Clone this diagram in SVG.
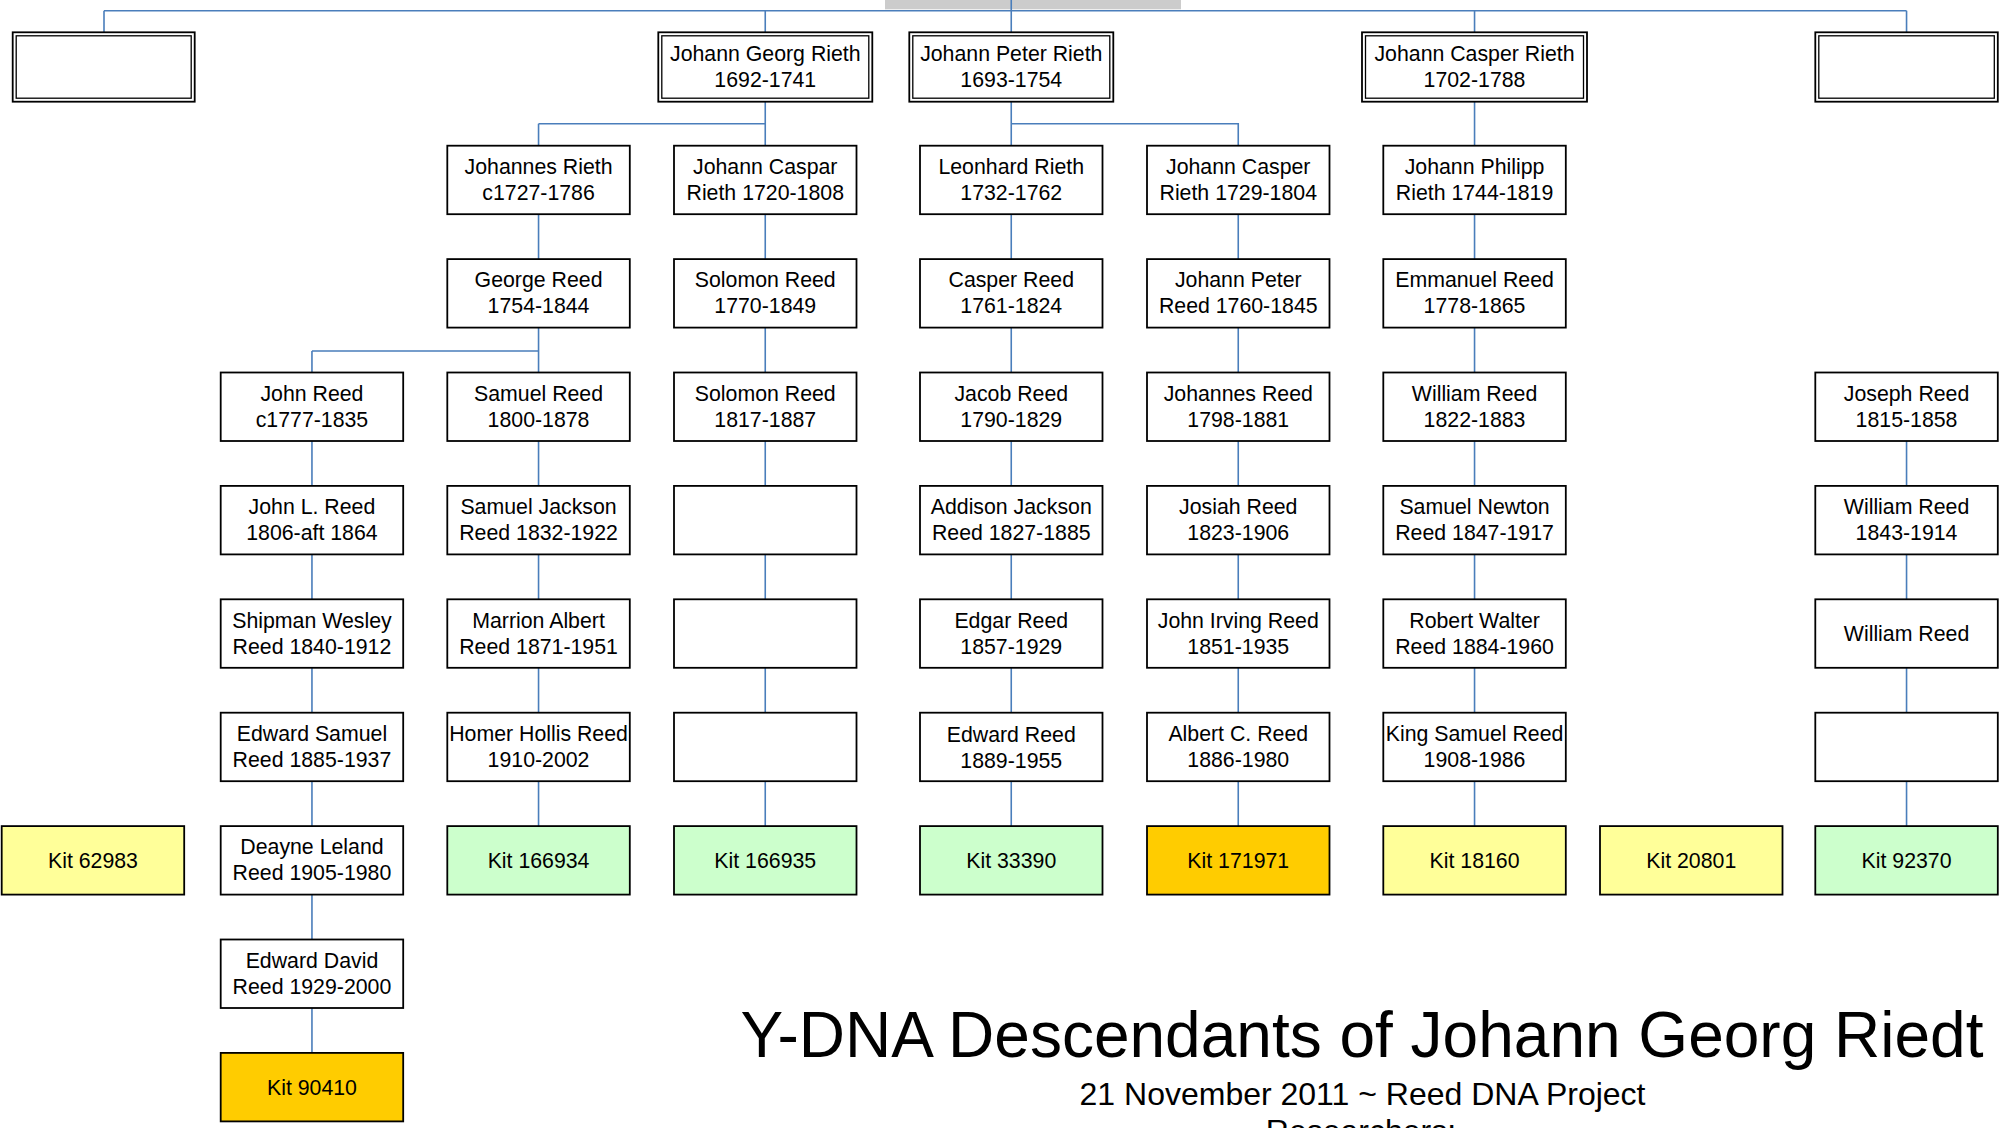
<svg xmlns="http://www.w3.org/2000/svg" width="2000" height="1128" viewBox="0 0 2000 1128">
<style>
.bg{fill:#ffffff}
.box{fill:#ffffff;stroke:#000000;stroke-width:1.8}
.inner{fill:none;stroke:#000000;stroke-width:1.3}
.yel{fill:#FFFF99;stroke:#000000;stroke-width:1.8}
.grn{fill:#CCFFCC;stroke:#000000;stroke-width:1.8}
.org{fill:#FFCC00;stroke:#000000;stroke-width:1.8}
.t{font-family:"Liberation Sans",Arial,sans-serif;font-size:21.3px;text-anchor:middle;fill:#000000}
.c{stroke:#4A7EBB;stroke-width:1.6;fill:none}
.title{font-family:"Liberation Sans",Arial,sans-serif;font-size:64px;text-anchor:middle;fill:#000000}
.sub{font-family:"Liberation Sans",Arial,sans-serif;font-size:32px;text-anchor:middle;fill:#000000}
</style>
<rect class="bg" x="0" y="0" width="2000" height="1128"/>
<rect x="885" y="0" width="296" height="9.3" fill="#CCCCCC"/>

<g id="connectors">
<path class="c" d="M104 10.7 H1906.55 M104 10.7 V32.3 M765.25 10.7 V32.3 M1011.25 0 V32.3 M1474.55 10.7 V32.3 M1906.55 10.7 V32.3"/>
<path class="c" d="M765.25 101.7 V145.7 M538.55 123.7 H765.25 M538.55 123.7 V145.7"/>
<path class="c" d="M1011.25 101.7 V145.7 M1011.25 123.7 H1238.25 V145.7"/>
<path class="c" d="M1474.55 101.7 V145.7"/>
<path class="c" d="M538.55 214.2 V259.1 M538.55 327.6 V372.5 M311.95 351 H538.55 M311.95 351 V372.5 M538.55 441 V485.9 M538.55 554.4 V599.3 M538.55 667.8 V712.7 M538.55 781.2 V826.1"/>
<path class="c" d="M311.95 441 V485.9 M311.95 554.4 V599.3 M311.95 667.8 V712.7 M311.95 781.2 V826.1 M311.95 894.6 V939.5 M311.95 1008 V1052.9"/>
<path class="c" d="M765.25 214.2 V259.1 M765.25 327.6 V372.5 M765.25 441 V485.9 M765.25 554.4 V599.3 M765.25 667.8 V712.7 M765.25 781.2 V826.1"/>
<path class="c" d="M1011.25 214.2 V259.1 M1011.25 327.6 V372.5 M1011.25 441 V485.9 M1011.25 554.4 V599.3 M1011.25 667.8 V712.7 M1011.25 781.2 V826.1"/>
<path class="c" d="M1238.25 214.2 V259.1 M1238.25 327.6 V372.5 M1238.25 441 V485.9 M1238.25 554.4 V599.3 M1238.25 667.8 V712.7 M1238.25 781.2 V826.1"/>
<path class="c" d="M1474.55 214.2 V259.1 M1474.55 327.6 V372.5 M1474.55 441 V485.9 M1474.55 554.4 V599.3 M1474.55 667.8 V712.7 M1474.55 781.2 V826.1"/>
<path class="c" d="M1906.55 441 V485.9 M1906.55 554.4 V599.3 M1906.55 667.8 V712.7 M1906.55 781.2 V826.1"/>
</g>

<!-- Row 1 -->
<g id="top-empty-left" transform="translate(12.7,32.3)"><rect class="box" width="182" height="69.4"/><rect class="inner" x="3.5" y="3.5" width="175" height="62.4"/></g>
<g id="johann-georg-rieth" transform="translate(658.3,32.3)"><rect class="box" width="214" height="69.4"/><rect class="inner" x="3.5" y="3.5" width="207" height="62.4"/><text class="t"><tspan x="107" y="28.7">Johann Georg Rieth</tspan><tspan x="107" y="54.7">1692-1741</tspan></text></g>
<g id="johann-peter-rieth" transform="translate(909.3,32.3)"><rect class="box" width="204" height="69.4"/><rect class="inner" x="3.5" y="3.5" width="197" height="62.4"/><text class="t"><tspan x="102" y="28.7">Johann Peter Rieth</tspan><tspan x="102" y="54.7">1693-1754</tspan></text></g>
<g id="johann-casper-rieth" transform="translate(1362,32.3)"><rect class="box" width="225" height="69.4"/><rect class="inner" x="3.5" y="3.5" width="218" height="62.4"/><text class="t"><tspan x="112.5" y="28.7">Johann Casper Rieth</tspan><tspan x="112.5" y="54.7">1702-1788</tspan></text></g>
<g id="top-empty-right" transform="translate(1815.3,32.3)"><rect class="box" width="182.5" height="69.4"/><rect class="inner" x="3.5" y="3.5" width="175.5" height="62.4"/></g>

<!-- Row 2 -->
<g id="johannes-rieth" transform="translate(447.3,145.7)"><rect class="box" width="182.5" height="68.5"/><text class="t"><tspan x="91.25" y="28.3">Johannes Rieth</tspan><tspan x="91.25" y="54.3">c1727-1786</tspan></text></g>
<g id="johann-caspar-rieth" transform="translate(674,145.7)"><rect class="box" width="182.5" height="68.5"/><text class="t"><tspan x="91.25" y="28.3">Johann Caspar</tspan><tspan x="91.25" y="54.3">Rieth 1720-1808</tspan></text></g>
<g id="leonhard-rieth" transform="translate(920,145.7)"><rect class="box" width="182.5" height="68.5"/><text class="t"><tspan x="91.25" y="28.3">Leonhard Rieth</tspan><tspan x="91.25" y="54.3">1732-1762</tspan></text></g>
<g id="johann-casper-rieth-1729" transform="translate(1147,145.7)"><rect class="box" width="182.5" height="68.5"/><text class="t"><tspan x="91.25" y="28.3">Johann Casper</tspan><tspan x="91.25" y="54.3">Rieth 1729-1804</tspan></text></g>
<g id="johann-philipp-rieth" transform="translate(1383.3,145.7)"><rect class="box" width="182.5" height="68.5"/><text class="t"><tspan x="91.25" y="28.3">Johann Philipp</tspan><tspan x="91.25" y="54.3">Rieth 1744-1819</tspan></text></g>

<!-- Row 3 -->
<g id="george-reed" transform="translate(447.3,259.1)"><rect class="box" width="182.5" height="68.5"/><text class="t"><tspan x="91.25" y="28.3">George Reed</tspan><tspan x="91.25" y="54.3">1754-1844</tspan></text></g>
<g id="solomon-reed-1770" transform="translate(674,259.1)"><rect class="box" width="182.5" height="68.5"/><text class="t"><tspan x="91.25" y="28.3">Solomon Reed</tspan><tspan x="91.25" y="54.3">1770-1849</tspan></text></g>
<g id="casper-reed" transform="translate(920,259.1)"><rect class="box" width="182.5" height="68.5"/><text class="t"><tspan x="91.25" y="28.3">Casper Reed</tspan><tspan x="91.25" y="54.3">1761-1824</tspan></text></g>
<g id="johann-peter-reed" transform="translate(1147,259.1)"><rect class="box" width="182.5" height="68.5"/><text class="t"><tspan x="91.25" y="28.3">Johann Peter</tspan><tspan x="91.25" y="54.3">Reed 1760-1845</tspan></text></g>
<g id="emmanuel-reed" transform="translate(1383.3,259.1)"><rect class="box" width="182.5" height="68.5"/><text class="t"><tspan x="91.25" y="28.3">Emmanuel Reed</tspan><tspan x="91.25" y="54.3">1778-1865</tspan></text></g>

<!-- Row 4 -->
<g id="john-reed" transform="translate(220.7,372.5)"><rect class="box" width="182.5" height="68.5"/><text class="t"><tspan x="91.25" y="28.3">John Reed</tspan><tspan x="91.25" y="54.3">c1777-1835</tspan></text></g>
<g id="samuel-reed" transform="translate(447.3,372.5)"><rect class="box" width="182.5" height="68.5"/><text class="t"><tspan x="91.25" y="28.3">Samuel Reed</tspan><tspan x="91.25" y="54.3">1800-1878</tspan></text></g>
<g id="solomon-reed-1817" transform="translate(674,372.5)"><rect class="box" width="182.5" height="68.5"/><text class="t"><tspan x="91.25" y="28.3">Solomon Reed</tspan><tspan x="91.25" y="54.3">1817-1887</tspan></text></g>
<g id="jacob-reed" transform="translate(920,372.5)"><rect class="box" width="182.5" height="68.5"/><text class="t"><tspan x="91.25" y="28.3">Jacob Reed</tspan><tspan x="91.25" y="54.3">1790-1829</tspan></text></g>
<g id="johannes-reed" transform="translate(1147,372.5)"><rect class="box" width="182.5" height="68.5"/><text class="t"><tspan x="91.25" y="28.3">Johannes Reed</tspan><tspan x="91.25" y="54.3">1798-1881</tspan></text></g>
<g id="william-reed-1822" transform="translate(1383.3,372.5)"><rect class="box" width="182.5" height="68.5"/><text class="t"><tspan x="91.25" y="28.3">William Reed</tspan><tspan x="91.25" y="54.3">1822-1883</tspan></text></g>
<g id="joseph-reed" transform="translate(1815.3,372.5)"><rect class="box" width="182.5" height="68.5"/><text class="t"><tspan x="91.25" y="28.3">Joseph Reed</tspan><tspan x="91.25" y="54.3">1815-1858</tspan></text></g>

<!-- Row 5 -->
<g id="john-l-reed" transform="translate(220.7,485.9)"><rect class="box" width="182.5" height="68.5"/><text class="t"><tspan x="91.25" y="28.3">John L. Reed</tspan><tspan x="91.25" y="54.3">1806-aft 1864</tspan></text></g>
<g id="samuel-jackson-reed" transform="translate(447.3,485.9)"><rect class="box" width="182.5" height="68.5"/><text class="t"><tspan x="91.25" y="28.3">Samuel Jackson</tspan><tspan x="91.25" y="54.3">Reed 1832-1922</tspan></text></g>
<g id="empty-d5" transform="translate(674,485.9)"><rect class="box" width="182.5" height="68.5"/></g>
<g id="addison-jackson-reed" transform="translate(920,485.9)"><rect class="box" width="182.5" height="68.5"/><text class="t"><tspan x="91.25" y="28.3">Addison Jackson</tspan><tspan x="91.25" y="54.3">Reed 1827-1885</tspan></text></g>
<g id="josiah-reed" transform="translate(1147,485.9)"><rect class="box" width="182.5" height="68.5"/><text class="t"><tspan x="91.25" y="28.3">Josiah Reed</tspan><tspan x="91.25" y="54.3">1823-1906</tspan></text></g>
<g id="samuel-newton-reed" transform="translate(1383.3,485.9)"><rect class="box" width="182.5" height="68.5"/><text class="t"><tspan x="91.25" y="28.3">Samuel Newton</tspan><tspan x="91.25" y="54.3">Reed 1847-1917</tspan></text></g>
<g id="william-reed-1843" transform="translate(1815.3,485.9)"><rect class="box" width="182.5" height="68.5"/><text class="t"><tspan x="91.25" y="28.3">William Reed</tspan><tspan x="91.25" y="54.3">1843-1914</tspan></text></g>

<!-- Row 6 -->
<g id="shipman-wesley-reed" transform="translate(220.7,599.3)"><rect class="box" width="182.5" height="68.5"/><text class="t"><tspan x="91.25" y="28.3">Shipman Wesley</tspan><tspan x="91.25" y="54.3">Reed 1840-1912</tspan></text></g>
<g id="marrion-albert-reed" transform="translate(447.3,599.3)"><rect class="box" width="182.5" height="68.5"/><text class="t"><tspan x="91.25" y="28.3">Marrion Albert</tspan><tspan x="91.25" y="54.3">Reed 1871-1951</tspan></text></g>
<g id="empty-d6" transform="translate(674,599.3)"><rect class="box" width="182.5" height="68.5"/></g>
<g id="edgar-reed" transform="translate(920,599.3)"><rect class="box" width="182.5" height="68.5"/><text class="t"><tspan x="91.25" y="28.3">Edgar Reed</tspan><tspan x="91.25" y="54.3">1857-1929</tspan></text></g>
<g id="john-irving-reed" transform="translate(1147,599.3)"><rect class="box" width="182.5" height="68.5"/><text class="t"><tspan x="91.25" y="28.3">John Irving Reed</tspan><tspan x="91.25" y="54.3">1851-1935</tspan></text></g>
<g id="robert-walter-reed" transform="translate(1383.3,599.3)"><rect class="box" width="182.5" height="68.5"/><text class="t"><tspan x="91.25" y="28.3">Robert Walter</tspan><tspan x="91.25" y="54.3">Reed 1884-1960</tspan></text></g>
<g id="william-reed" transform="translate(1815.3,599.3)"><rect class="box" width="182.5" height="68.5"/><text class="t" x="91.25" y="41.8">William Reed</text></g>

<!-- Row 7 -->
<g id="edward-samuel-reed" transform="translate(220.7,712.7)"><rect class="box" width="182.5" height="68.5"/><text class="t"><tspan x="91.25" y="28.3">Edward Samuel</tspan><tspan x="91.25" y="54.3">Reed 1885-1937</tspan></text></g>
<g id="homer-hollis-reed" transform="translate(447.3,712.7)"><rect class="box" width="182.5" height="68.5"/><text class="t"><tspan x="91.25" y="28.3">Homer Hollis Reed</tspan><tspan x="91.25" y="54.3">1910-2002</tspan></text></g>
<g id="empty-d7" transform="translate(674,712.7)"><rect class="box" width="182.5" height="68.5"/></g>
<g id="edward-reed" transform="translate(920,712.7)"><rect class="box" width="182.5" height="68.5"/><text class="t"><tspan x="91.25" y="29">Edward Reed</tspan><tspan x="91.25" y="55">1889-1955</tspan></text></g>
<g id="albert-c-reed" transform="translate(1147,712.7)"><rect class="box" width="182.5" height="68.5"/><text class="t"><tspan x="91.25" y="28.3">Albert C. Reed</tspan><tspan x="91.25" y="54.3">1886-1980</tspan></text></g>
<g id="king-samuel-reed" transform="translate(1383.3,712.7)"><rect class="box" width="182.5" height="68.5"/><text class="t"><tspan x="91.25" y="28.3">King Samuel Reed</tspan><tspan x="91.25" y="54.3">1908-1986</tspan></text></g>
<g id="empty-i7" transform="translate(1815.3,712.7)"><rect class="box" width="182.5" height="68.5"/></g>

<!-- Row 8 -->
<g id="kit-62983" transform="translate(1.7,826.1)"><rect class="yel" width="182.5" height="68.5"/><text class="t" x="91.25" y="41.8">Kit 62983</text></g>
<g id="deayne-leland-reed" transform="translate(220.7,826.1)"><rect class="box" width="182.5" height="68.5"/><text class="t"><tspan x="91.25" y="28.3">Deayne Leland</tspan><tspan x="91.25" y="54.3">Reed 1905-1980</tspan></text></g>
<g id="kit-166934" transform="translate(447.3,826.1)"><rect class="grn" width="182.5" height="68.5"/><text class="t" x="91.25" y="41.8">Kit 166934</text></g>
<g id="kit-166935" transform="translate(674,826.1)"><rect class="grn" width="182.5" height="68.5"/><text class="t" x="91.25" y="41.8">Kit 166935</text></g>
<g id="kit-33390" transform="translate(920,826.1)"><rect class="grn" width="182.5" height="68.5"/><text class="t" x="91.25" y="41.8">Kit 33390</text></g>
<g id="kit-171971" transform="translate(1147,826.1)"><rect class="org" width="182.5" height="68.5"/><text class="t" x="91.25" y="41.8">Kit 171971</text></g>
<g id="kit-18160" transform="translate(1383.3,826.1)"><rect class="yel" width="182.5" height="68.5"/><text class="t" x="91.25" y="41.8">Kit 18160</text></g>
<g id="kit-20801" transform="translate(1600,826.1)"><rect class="yel" width="182.5" height="68.5"/><text class="t" x="91.25" y="41.8">Kit 20801</text></g>
<g id="kit-92370" transform="translate(1815.3,826.1)"><rect class="grn" width="182.5" height="68.5"/><text class="t" x="91.25" y="41.8">Kit 92370</text></g>

<!-- Row 9-10 -->
<g id="edward-david-reed" transform="translate(220.7,939.5)"><rect class="box" width="182.5" height="68.5"/><text class="t"><tspan x="91.25" y="28.3">Edward David</tspan><tspan x="91.25" y="54.3">Reed 1929-2000</tspan></text></g>
<g id="kit-90410" transform="translate(220.7,1052.9)"><rect class="org" width="182.5" height="68.5"/><text class="t" x="91.25" y="41.8">Kit 90410</text></g>

<g id="title">
<text class="title" x="1362" y="1057">Y-DNA Descendants of Johann Georg Riedt</text>
<text class="sub" x="1362.5" y="1104.5">21 November 2011 ~ Reed DNA Project</text>
<text class="sub" x="1361" y="1142">Researchers:</text>
</g>
</svg>
